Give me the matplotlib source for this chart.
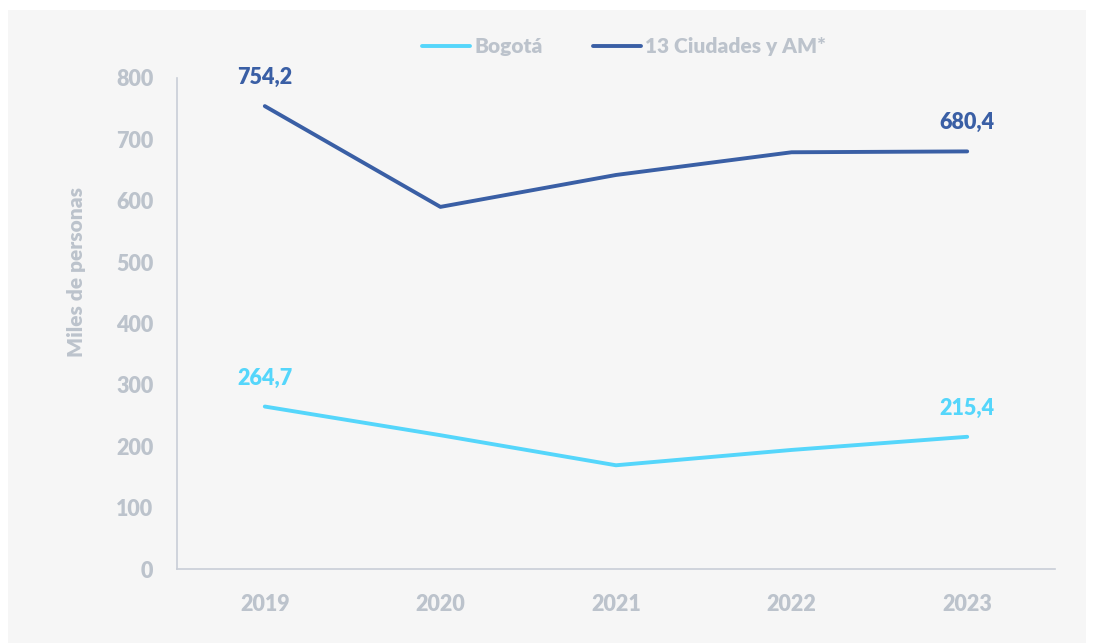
import matplotlib.pyplot as plt
from matplotlib.patches import Rectangle

plt.rcParams['font.family'] = 'Lato'

years = ['2019', '2020', '2021', '2022', '2023']
bogota = [264.7, 218, 169, 194, 215.4]
ciudades = [754.2, 590, 642, 679, 680.4]
y_ticks = [0, 100, 200, 300, 400, 500, 600, 700, 800]

dark_blue = '#3a5fa5'
light_blue = '#55d6fb'
gray_txt = '#bcc3cc'

fig = plt.figure(figsize=(10.94, 6.43), dpi=100)
fig.patch.set_facecolor('white')
# gray panel behind the chart
fig.add_artist(Rectangle((8 / 1094, 0), (1086 - 8) / 1094, (643 - 10) / 643,
                         transform=fig.transFigure, facecolor='#f6f6f6',
                         edgecolor='none', zorder=-5))

ax = fig.add_axes([177 / 1094, 74 / 643, (1055 - 177) / 1094, (569 - 78) / 643])
ax.set_facecolor('none')

x = list(range(len(years)))
ax.plot(x, bogota, color=light_blue, lw=2.8, solid_capstyle='round', label='Bogotá')
ax.plot(x, ciudades, color=dark_blue, lw=2.8, solid_capstyle='round', label='13 Ciudades y AM*')

# labels on first and last points
for i in (0, len(years) - 1):
    ax.annotate(f'{ciudades[i]:.1f}'.replace('.', ','), (x[i], ciudades[i]),
                xytext=(0, 13), textcoords='offset points', ha='center', va='bottom',
                color=dark_blue, fontsize=15.5, fontweight='heavy')
    ax.annotate(f'{bogota[i]:.1f}'.replace('.', ','), (x[i], bogota[i]),
                xytext=(0, 13), textcoords='offset points', ha='center', va='bottom',
                color=light_blue, fontsize=15.5, fontweight='heavy')

ax.set_xlim(-0.5, 4.5)
ax.set_ylim(0, 800)
ax.set_xticks(x)
ax.set_xticklabels(years)
ax.set_yticks(y_ticks)
ax.tick_params(axis='both', length=0, labelsize=15.5, labelcolor=gray_txt)
ax.tick_params(axis='y', pad=17)
ax.tick_params(axis='x', pad=18)
for lab in ax.get_xticklabels() + ax.get_yticklabels():
    lab.set_fontweight('heavy')

for s in ('top', 'right'):
    ax.spines[s].set_visible(False)
for s in ('left', 'bottom'):
    ax.spines[s].set_color('#c9ced7')
    ax.spines[s].set_linewidth(1.2)

ax.set_ylabel('Miles de personas', color=gray_txt, fontsize=15, fontweight='heavy', va='center')
ax.yaxis.set_label_coords(76 / 1094, (643 - 272) / 643, transform=fig.transFigure)

leg = ax.legend(loc='center', bbox_to_anchor=(624 / 1094, 596 / 643),
                bbox_transform=fig.transFigure, ncol=2, frameon=False,
                handlelength=2.3, handletextpad=0.2, columnspacing=2.4,
                prop={'weight': 'heavy', 'size': 15})
for t in leg.get_texts():
    t.set_color(gray_txt)

fig.savefig('out.png', dpi=100)
